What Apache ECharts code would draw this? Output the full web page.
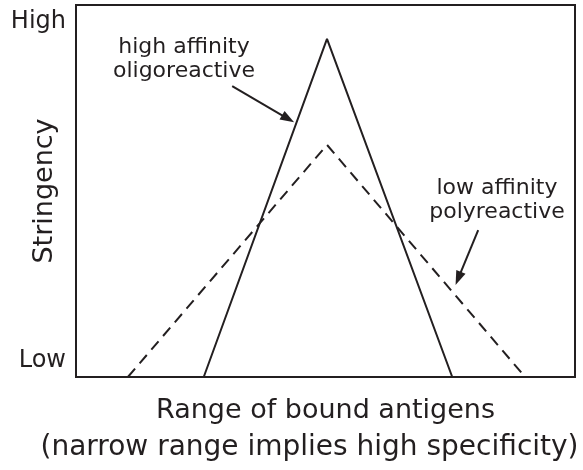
<!DOCTYPE html>
<html>
<head>
<meta charset="utf-8">
<script src="https://cdn.jsdelivr.net/npm/echarts@6/dist/echarts.min.js"></script>
<style>
html, body { margin: 0; padding: 0; background: #fff; }
#main { width: 583px; height: 470px; }
</style>
</head>
<body>
<div id="main"></div>
<script>
// x = breadth of antigen range (0..100), y = stringency (0..100)
const highAffinityX = [25.6, 50.3, 75.4];
const highAffinityY = [0, 90.9, 0];
const lowAffinityX = [10.4, 50.3, 90];
const lowAffinityY = [0, 62.4, 0];
const yTickValues = [4.3, 95.6];
const yTickLabels = ['Low', 'High'];
// annotation arrows: [fromX, fromY, toX, toY]
const arrowHigh = [31.3, 78.2, 42.5, 69.4];
const arrowLow = [80.6, 39.5, 76.6, 26.5];

const FONT = 'DejaVu Sans';
const INK = '#231f20';

function pairs(xs, ys)
{
	return xs.map((x, i) => [x, ys[i]]);
}

function arrow(a)
{
	return [{ coord: [a[0], a[1]] }, { coord: [a[2], a[3]] }];
}

function note(x, y, text)
{
	return {
		type: 'text',
		style: { x: x, y: y, text: text, font: '22px "DejaVu Sans"', fill: INK,
			align: 'center', verticalAlign: 'middle', lineHeight: 24 }
	};
}

var chart = echarts.init(document.getElementById('main'));
chart.setOption({
	animation: false,
	grid: {
		left: 76, right: 8, top: 5, bottom: 93,
		outerBoundsMode: 'none',
		show: true, borderColor: INK, borderWidth: 2
	},
	xAxis: {
		type: 'value', min: 0, max: 100,
		axisLine: { show: false }, axisTick: { show: false },
		axisLabel: { show: false }, splitLine: { show: false },
		name: '{a|Range of bound antigens}\n{b|(narrow range implies high specificity)}',
		nameLocation: 'middle', nameGap: 15, nameMoveOverlap: false,
		nameTextStyle: {
			fontFamily: FONT, fontSize: 27, color: INK, lineHeight: 37,
			rich: {
				a: { fontFamily: FONT, fontSize: 27, color: INK, lineHeight: 37 },
				b: { fontFamily: FONT, fontSize: 28, color: INK, lineHeight: 37, padding: [0, 32, 0, 0] }
			}
		}
	},
	yAxis: {
		type: 'value', min: 0, max: 100,
		axisLine: { show: false }, axisTick: { show: false },
		splitLine: { show: false },
		axisLabel: {
			customValues: yTickValues,
			formatter: (v) => yTickLabels[yTickValues.indexOf(v)],
			fontFamily: FONT, fontSize: 24, color: INK, margin: 10
		},
		name: 'Stringency', nameLocation: 'middle', nameRotate: 90, nameGap: 18,
		nameMoveOverlap: false,
		nameTextStyle: { fontFamily: FONT, fontSize: 27, color: INK }
	},
	graphic: [
		note(184, 59, 'high affinity\noligoreactive'),
		note(497, 200, 'low affinity\npolyreactive')
	],
	series: [
		{
			type: 'line', data: pairs(highAffinityX, highAffinityY),
			symbol: 'none', lineStyle: { color: INK, width: 2 },
			markLine: {
				silent: true, symbol: ['none', 'triangle'], symbolSize: [10, 14],
				label: { show: false }, lineStyle: { color: INK, width: 2, type: 'solid' },
				data: [arrow(arrowHigh), arrow(arrowLow)]
			}
		},
		{
			type: 'line', data: pairs(lowAffinityX, lowAffinityY),
			symbol: 'none', lineStyle: { color: INK, width: 2, type: [11, 7] }
		}
	]
});
</script>
</body>
</html>
